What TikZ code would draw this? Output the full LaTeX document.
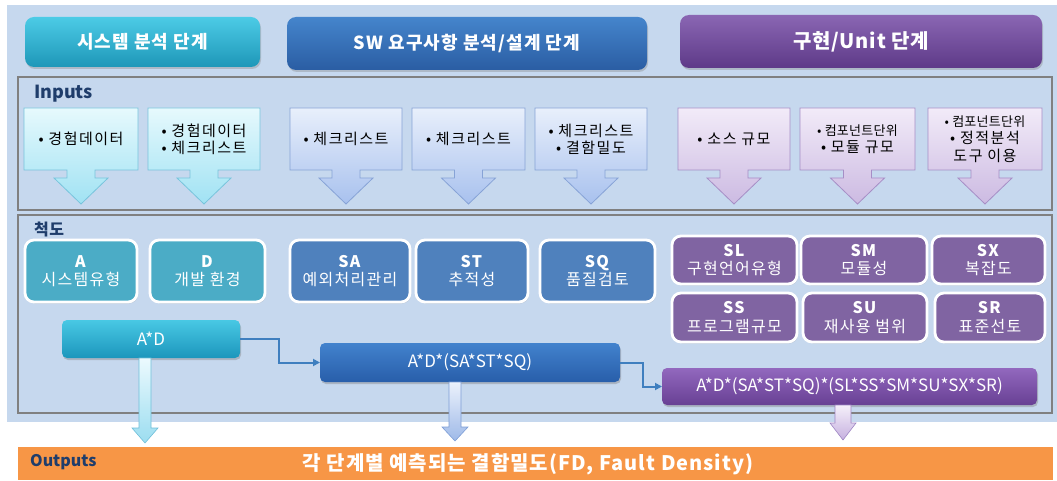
\documentclass[tikz,border=0pt]{standalone}
\usepackage{fontspec}
\setmainfont{Noto Sans CJK KR}
\usetikzlibrary{arrows.meta,shadows}
\definecolor{panel}{HTML}{C6D8EE}
\definecolor{frameg}{HTML}{808080}
\definecolor{navy}{HTML}{1F3D6B}
\definecolor{mteal}{HTML}{4BACC6}
\definecolor{mblue}{HTML}{4F81BD}
\definecolor{mpurp}{HTML}{8064A2}
\definecolor{conncol}{HTML}{3F7FBF}
\definecolor{orangebar}{HTML}{F79646}
\newcommand\fs[1]{\fontsize{#1}{\fpeval{#1*1.15}}\selectfont}
\newcommand\ls[1]{\addfontfeatures{LetterSpace=#1}}
\newcommand\boxat[7]{% name x1 y1 x2 y2 style text
  \pgfmathsetmacro\bw{#4-#2}\pgfmathsetmacro\bh{#5-#3}
  \node[#6,minimum width=\bw pt,minimum height=\bh pt,anchor=north west] (#1) at (#2,#3) {#7};}
\newcommand\callout[7]{% x1 x2 name text top bottom border
  \pgfmathsetmacro\cx{(#1+#2)/2}
  \shadedraw[top color=#5,bottom color=#6,draw=#7,line width=0.8pt]
    (#1,108) -- (#2,108) -- (#2,170) -- (\cx+14,170) -- (\cx+14,178) -- (\cx+27,178)
    -- (\cx,204) -- (\cx-27,178) -- (\cx-14,178) -- (\cx-14,170) -- (#1,170) -- cycle;
  \node[intext] (#3) at (\cx,139) {#4};}
\newcommand\downarr[9]{% cx ytop yhead ytip shafthalf headhalf top bottom border
  \shadedraw[top color=#7,bottom color=#8,draw=#9,line width=0.6pt]
    (#1-#5,#2) -- (#1+#5,#2) -- (#1+#5,#3) -- (#1+#6,#3) -- (#1,#4)
    -- (#1-#6,#3) -- (#1-#5,#3) -- cycle;}
\tikzset{
  hdr/.style={rounded corners=9pt,inner sep=0pt,outer sep=0pt,text=white,
    font=\bfseries\fs{18}\ls{6},drop shadow={opacity=0.35,shadow xshift=1pt,shadow yshift=-2pt}},
  metric/.style={rounded corners=9pt,inner sep=0pt,outer sep=0pt,draw=white,line width=2.8pt,
    text=white,align=center,font=\fs{16}\ls{8},
    drop shadow={opacity=0.25,shadow xshift=1pt,shadow yshift=-1.5pt}},
  formula/.style={rounded corners=5pt,inner sep=0pt,outer sep=0pt,text=white,font=\fs{17},
    drop shadow={opacity=0.4,shadow xshift=1pt,shadow yshift=-2pt}},
  intext/.style={align=center,font=\fs{15}\ls{10},text=black,inner sep=0pt},
  sectlabel/.style={anchor=west,text=navy,font=\bfseries\fs{18},inner sep=0pt},
  frame/.style={draw=frameg,line width=1.5pt},
  conn/.style={draw=conncol,line width=2pt,-{Triangle[length=7pt,width=7pt]}}
}
\begin{document}
\begin{tikzpicture}[x=1pt,y=-1pt]
\useasboundingbox (0,0) rectangle (1057,481);
% background panel
\fill[panel] (7,5) rectangle (1057,422);
% headers
\boxat{h1}{25}{17}{260}{67}{hdr,top color={rgb,255:red,76;green,203;blue,230},bottom color={rgb,255:red,30;green,151;blue,184}}{시스템 분석 단계}
\boxat{h2}{287}{17}{647}{70}{hdr,top color={rgb,255:red,69;green,133;blue,204},bottom color={rgb,255:red,42;green,93;blue,163}}{SW 요구사항 분석/설계 단계}
\boxat{h3}{680}{15}{1042}{68}{hdr,font=\bfseries\fs{20}\ls{4},top color={rgb,255:red,138;green,102;blue,179},bottom color={rgb,255:red,94;green,58;blue,136}}{구현/Unit 단계}
% frames
\draw[frame] (18,77) rectangle (1052,210);
\draw[frame] (18,215) rectangle (1052,413);
\node[sectlabel] (inl) at (34,94) {Inputs};
\node[sectlabel,font=\bfseries\fs{16}\ls{3}] (chl) at (34,229) {척도};
% input callouts
\callout{24}{138}{i1}{• 경험데이터}{{rgb,255:red,230;green,249;blue,253}}{{rgb,255:red,160;green,226;blue,243}}{{rgb,255:red,120;green,196;blue,220}}
\callout{148}{260}{i2}{• 경험데이터\\• 체크리스트}{{rgb,255:red,230;green,249;blue,253}}{{rgb,255:red,160;green,226;blue,243}}{{rgb,255:red,120;green,196;blue,220}}
\callout{290}{402}{i3}{• 체크리스트}{{rgb,255:red,232;green,239;blue,251}}{{rgb,255:red,168;green,193;blue,238}}{{rgb,255:red,135;green,163;blue,214}}
\callout{412}{525}{i4}{• 체크리스트}{{rgb,255:red,232;green,239;blue,251}}{{rgb,255:red,168;green,193;blue,238}}{{rgb,255:red,135;green,163;blue,214}}
\callout{535}{647}{i5}{• 체크리스트\\• 결함밀도}{{rgb,255:red,232;green,239;blue,251}}{{rgb,255:red,168;green,193;blue,238}}{{rgb,255:red,135;green,163;blue,214}}
\callout{678}{790}{i6}{• 소스 규모}{{rgb,255:red,242;green,235;blue,248}}{{rgb,255:red,204;green,186;blue,226}}{{rgb,255:red,166;green,142;blue,198}}
\callout{800}{915}{i7}{{\fs{13}\ls{2}• 컴포넌트단위}\\• 모듈 규모}{{rgb,255:red,242;green,235;blue,248}}{{rgb,255:red,204;green,186;blue,226}}{{rgb,255:red,166;green,142;blue,198}}
\callout{928}{1042}{i8}{{\fs{13}\ls{2}• 컴포넌트단위}\\• 정적분석\\도구 이용}{{rgb,255:red,242;green,235;blue,248}}{{rgb,255:red,204;green,186;blue,226}}{{rgb,255:red,166;green,142;blue,198}}
% metric boxes
\boxat{mA}{25}{240}{137}{302}{metric,fill=mteal}{\textbf{A}\\시스템유형}
\boxat{mD}{150}{240}{265}{302}{metric,fill=mteal}{\textbf{D}\\개발 환경}
\boxat{mSA}{290}{240}{410}{302}{metric,fill=mblue}{\textbf{SA}\\예외처리관리}
\boxat{mST}{416}{240}{528}{302}{metric,fill=mblue}{\textbf{ST}\\추적성}
\boxat{mSQ}{540}{240}{655}{302}{metric,fill=mblue}{\textbf{SQ}\\품질검토}
\boxat{mSL}{672}{236}{797}{284}{metric,fill=mpurp}{\textbf{SL}\\구현언어유형}
\boxat{mSM}{801}{236}{927}{284}{metric,fill=mpurp}{\textbf{SM}\\모듈성}
\boxat{mSX}{932}{236}{1045}{284}{metric,fill=mpurp}{\textbf{SX}\\복잡도}
\boxat{mSS}{672}{293}{797}{342}{metric,fill=mpurp}{\textbf{SS}\\프로그램규모}
\boxat{mSU}{803}{293}{927}{342}{metric,fill=mpurp}{\textbf{SU}\\재사용 범위}
\boxat{mSR}{935}{293}{1045}{342}{metric,fill=mpurp}{\textbf{SR}\\표준선토}
% formula boxes
\boxat{ad}{62}{320}{240}{358}{formula,top color={rgb,255:red,72;green,200;blue,228},bottom color={rgb,255:red,28;green,150;blue,188}}{A*D}
\boxat{f2}{320}{343}{620}{382}{formula,top color={rgb,255:red,66;green,130;blue,205},bottom color={rgb,255:red,40;green,94;blue,170}}{A*D*(SA*ST*SQ)}
\boxat{f3}{662}{368}{1037}{405}{formula,top color={rgb,255:red,146;green,104;blue,190},bottom color={rgb,255:red,104;green,64;blue,148}}{A*D*(SA*ST*SQ)*(SL*SS*SM*SU*SX*SR)}
% connectors
\draw[conn] (ad.east) -- ++(39,0) |- (f2.west);
\draw[conn] (f2.east) -- ++(23,0) |- (f3.west);
% output bar
\boxat{out}{18}{447}{1053}{480}{fill=orangebar,inner sep=0pt,outer sep=0pt}{}
\node[anchor=west,text=navy,font=\bfseries\fs{16},inner sep=0pt] (outl) at (30,462) {Outputs};
\node[text=white,font=\bfseries\fs{20}\ls{5},inner sep=0pt] (outt) at (528,464) {각 단계별 예측되는 결함밀도(FD, Fault Density)};
% output arrows
\downarr{145}{358}{428}{443}{6}{13}{{rgb,255:red,236;green,250;blue,254}}{{rgb,255:red,155;green,221;blue,240}}{{rgb,255:red,111;green,191;blue,217}}
\downarr{455}{382}{427}{441}{6}{13}{{rgb,255:red,236;green,242;blue,252}}{{rgb,255:red,158;green,185;blue,232}}{{rgb,255:red,125;green,158;blue,214}}
\downarr{843}{405}{423}{440}{8}{13}{{rgb,255:red,245;green,240;blue,250}}{{rgb,255:red,198;green,176;blue,223}}{{rgb,255:red,158;green,133;blue,195}}
\end{tikzpicture}
\end{document}
